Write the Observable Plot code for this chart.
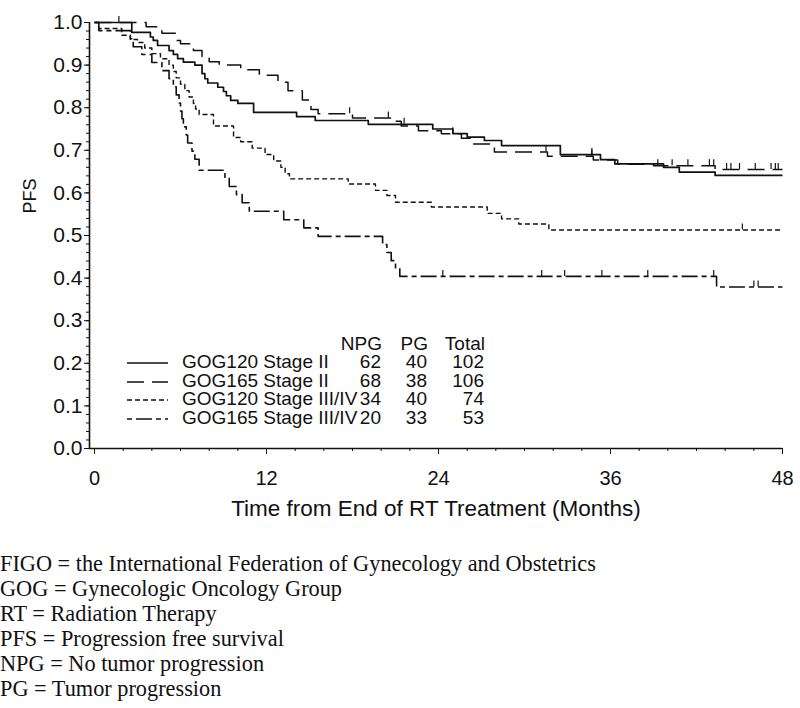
<!DOCTYPE html>
<html><head><meta charset="utf-8">
<script src="https://cdn.jsdelivr.net/npm/d3@7"></script>
<script src="https://cdn.jsdelivr.net/npm/@observablehq/plot@0.6"></script>
<style>
body{margin:0;background:#fff;font-family:"Liberation Sans",Arial,sans-serif;}
#wrap{position:relative;width:800px;height:540px;}
#legend{position:absolute;left:0;top:0;width:800px;height:540px;pointer-events:none;font-size:19px;color:#111;}
#legend span{position:absolute;white-space:nowrap;line-height:18px;}
#legend svg{position:absolute;overflow:visible;}
#notes{font-family:"Liberation Serif","Times New Roman",serif;font-size:22.3px;line-height:25px;padding-top:11px;color:#111;}
#notes div{white-space:nowrap;}
</style></head><body>
<div id="wrap"><div id="chart"></div><div id="legend"></div></div>
<div id="notes"></div>
<script>
// ---------------- data ----------------
const followUpEnd = 48;
const groups = ["GOG120 Stage II", "GOG165 Stage II", "GOG120 Stage III/IV", "GOG165 Stage III/IV"];
const npg = [62, 68, 34, 20];
const pg = [40, 38, 40, 33];
const total = [102, 106, 74, 53];
const legendHeader = ["NPG", "PG", "Total"];

// GOG120 Stage II (solid)
const g120s2Time = [0, 2.6, 3.9, 4.1, 4.4, 5.2, 5.5, 5.8, 6.2, 7.0, 7.5, 7.7, 7.9, 8.6, 9.0, 9.2, 9.5, 10.0, 11.1, 14.1, 15.4, 19.1, 23.6, 25.0, 26.0, 27.2, 28.4, 32.5, 35.3, 36.3, 39.7, 40.8, 43.3];
const g120s2Surv = [1.0, 0.977, 0.966, 0.958, 0.946, 0.934, 0.925, 0.915, 0.907, 0.9, 0.88, 0.868, 0.858, 0.848, 0.838, 0.828, 0.817, 0.81, 0.789, 0.779, 0.77, 0.761, 0.75, 0.739, 0.731, 0.723, 0.711, 0.69, 0.678, 0.668, 0.66, 0.649, 0.641];
const g120s2Cens = [1.7, 21.6, 34.7];

// GOG165 Stage II (long dash)
const g165s2Time = [0, 3.6, 4.7, 5.7, 6.0, 6.9, 7.5, 8.0, 8.7, 10.2, 11.5, 12.8, 13.5, 14.5, 15.1, 15.6, 18.0, 20.7, 21.4, 22.6, 24.2, 25.6, 26.2, 27.9, 31.6, 34.8, 36.5, 39.0, 43.3];
const g165s2Surv = [1.0, 0.99, 0.975, 0.958, 0.95, 0.934, 0.92, 0.908, 0.9, 0.889, 0.876, 0.86, 0.84, 0.818, 0.796, 0.786, 0.776, 0.768, 0.757, 0.746, 0.739, 0.728, 0.715, 0.696, 0.686, 0.677, 0.667, 0.664, 0.655];
const g165s2Cens = [17.8, 20.5, 25.0, 31.5, 34.7, 39.3, 40.3, 41.4, 42.9, 43.2, 44.1, 44.4, 45.0, 46.1, 47.2, 47.5, 47.7];

// GOG120 Stage III/IV (short dash)
const g120s34Time = [0, 0.3, 1.9, 2.5, 3.0, 3.5, 4.0, 4.6, 5.2, 5.5, 5.7, 6.0, 6.3, 6.6, 6.9, 7.05, 7.3, 8.3, 9.7, 10.2, 11.0, 11.9, 12.5, 13.0, 13.3, 13.6, 17.7, 19.6, 20.4, 21.0, 23.5, 27.4, 28.4, 29.6, 31.7];
const g120s34Surv = [1.0, 0.986, 0.97, 0.96, 0.953, 0.94, 0.927, 0.915, 0.9, 0.885, 0.87, 0.855, 0.84, 0.825, 0.81, 0.797, 0.784, 0.757, 0.73, 0.72, 0.705, 0.69, 0.675, 0.66, 0.645, 0.633, 0.621, 0.606, 0.594, 0.578, 0.567, 0.552, 0.539, 0.527, 0.513];
const g120s34Cens = [45.2];

// GOG165 Stage III/IV (dash-dot)
const g165s34Time = [0, 0.3, 2.5, 2.7, 3.3, 4.0, 4.7, 5.2, 5.5, 5.7, 5.9, 6.0, 6.1, 6.2, 6.4, 6.5, 6.8, 7.0, 7.3, 9.1, 9.4, 9.9, 10.3, 10.8, 13.2, 14.6, 15.6, 20.1, 20.4, 20.7, 21.0, 21.3, 43.4];
const g165s34Surv = [1.0, 0.981, 0.962, 0.943, 0.925, 0.906, 0.887, 0.868, 0.849, 0.83, 0.811, 0.792, 0.774, 0.755, 0.736, 0.717, 0.698, 0.679, 0.653, 0.634, 0.615, 0.596, 0.577, 0.557, 0.537, 0.518, 0.498, 0.479, 0.46, 0.441, 0.422, 0.404, 0.379];
const g165s34Cens = [24.3, 31.2, 32.8, 35.4, 38.6, 43.2, 46.0, 46.3];

const xTicks = [0, 12, 24, 36, 48];
const yTicks = [0, 0.1, 0.2, 0.3, 0.4, 0.5, 0.6, 0.7, 0.8, 0.9, 1.0];
const xLabel = "Time from End of RT Treatment (Months)";
const yLabel = "PFS";
const notes = [
  "FIGO = the International Federation of Gynecology and Obstetrics",
  "GOG = Gynecologic Oncology Group",
  "RT = Radiation Therapy",
  "PFS = Progression free survival",
  "NPG = No tumor progression",
  "PG = Tumor progression"
];

// ---------------- build ----------------
const seriesData = [
  [g120s2Time, g120s2Surv, g120s2Cens],
  [g165s2Time, g165s2Surv, g165s2Cens],
  [g120s34Time, g120s34Surv, g120s34Cens],
  [g165s34Time, g165s34Surv, g165s34Cens]
];
const styles = [
  {dash: undefined, w: 1.7, off: 0},
  {dash: "17,8", w: 1.5, off: 0},
  {dash: "5,3", w: 1.4, off: 0},
  {dash: "16,4,5,4", w: 1.6, off: 20}
];
function rowsFor(i) {
  const [t, s] = seriesData[i];
  const r = t.map((ti, k) => ({group: groups[i], t: ti, s: s[k]}));
  r.push({group: groups[i], t: followUpEnd, s: s[s.length - 1]});
  return r;
}
function survAt(i, x) {
  const [t, s] = seriesData[i];
  let v = s[0];
  for (let k = 0; k < t.length; k++) if (t[k] <= x) v = s[k];
  return v;
}
const censRows = seriesData.flatMap(([t, s, c], i) => c.map(x => ({group: groups[i], t: x, s: survAt(i, x)})));
const tickLen = 0.014;
const xDomain = [-0.35, followUpEnd];
const xMinor = d3.range(0, followUpEnd + 0.001, 2);
const yMinor = d3.range(0, 1.0001, 0.02);

const chart = Plot.plot({
  width: 800,
  height: 540,
  marginLeft: 89,
  marginRight: 18,
  marginTop: 22,
  marginBottom: 92,
  style: {fontFamily: "'Liberation Sans', Arial, sans-serif", fontSize: "20px", color: "#111", background: "#fff"},
  x: {domain: xDomain},
  y: {domain: [0, 1]},
  marks: [
    Plot.axisX({ticks: xMinor, tickSize: 3, tickFormat: () => "", label: null}),
    Plot.axisX({ticks: xTicks, tickSize: 6, tickPadding: 16, fontSize: 20, label: null}),
    Plot.axisY({ticks: yMinor, tickSize: 3, tickFormat: () => "", label: null}),
    Plot.axisY({ticks: yTicks, tickSize: 5, tickPadding: 2, fontSize: 21, tickFormat: d3.format(".1f"), label: null}),
    Plot.ruleY([0], {stroke: "#111", strokeWidth: 1.3}),
    Plot.ruleX([xDomain[0]], {stroke: "#111", strokeWidth: 1.6}),
    ...groups.map((g, i) => Plot.line(rowsFor(i), {
      x: "t", y: "s", curve: "step-after", stroke: "#111",
      strokeWidth: styles[i].w, strokeDasharray: styles[i].dash, strokeLinecap: "butt"
    })),
    Plot.ruleX(censRows, {x: "t", y1: "s", y2: d => d.s + tickLen, stroke: "#111", strokeWidth: 1.2}),
    Plot.text([yLabel], {frameAnchor: "left", dx: -59, dy: -22, rotate: -90, fontSize: 18}),
    Plot.text([xLabel], {frameAnchor: "bottom", dy: 67, fontSize: 22.5})
  ]
});
document.getElementById("chart").appendChild(chart);

// legend overlay
const lg = document.getElementById("legend");
const headerY = 344, rowY0 = 362, rowStep = 18.5;
const colRight = [381, 427, 484];
function addSpan(text, y, left, right) {
  const s = document.createElement("span");
  s.textContent = text;
  s.style.top = (y - 9) + "px";
  if (left != null) s.style.left = left + "px";
  if (right != null) { s.style.right = (800 - right) + "px"; s.style.textAlign = "right"; }
  lg.appendChild(s);
}
legendHeader.forEach((h, j) => addSpan(h, headerY, null, colRight[j] + 1));
groups.forEach((g, i) => {
  const y = rowY0 + i * rowStep;
  const ns = "http://www.w3.org/2000/svg";
  const svg = document.createElementNS(ns, "svg");
  svg.setAttribute("width", 42); svg.setAttribute("height", 6);
  svg.style.left = "127px"; svg.style.top = (y - 2) + "px";
  const ln = document.createElementNS(ns, "line");
  ln.setAttribute("x1", 0); ln.setAttribute("x2", 41); ln.setAttribute("y1", 3); ln.setAttribute("y2", 3);
  ln.setAttribute("stroke", "#111"); ln.setAttribute("stroke-width", styles[i].w);
  if (styles[i].dash) { ln.setAttribute("stroke-dasharray", styles[i].dash); ln.setAttribute("stroke-dashoffset", styles[i].off); }
  svg.appendChild(ln); lg.appendChild(svg);
  addSpan(g, y, 182, null);
  [npg[i], pg[i], total[i]].forEach((v, j) => addSpan(String(v), y, null, colRight[j]));
});

// footnotes
const nd = document.getElementById("notes");
notes.forEach(n => { const d = document.createElement("div"); d.textContent = n; nd.appendChild(d); });
</script>
</body></html>
